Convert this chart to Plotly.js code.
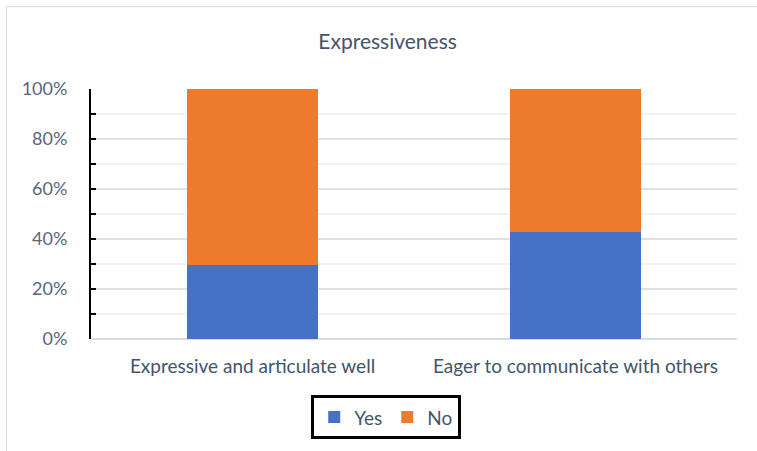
<!DOCTYPE html>
<html><head><meta charset="utf-8">
<script src="https://cdn.plot.ly/plotly-3.0.1.min.js"></script>
<style>
html,body{margin:0;padding:0;background:#fff;}
#wrap{position:relative;width:757px;height:451px;}
#frame{position:absolute;left:6px;top:6px;width:760px;height:460px;border-left:1px solid #D9DDE3;border-top:1px solid #D9DDE3;pointer-events:none;}
#chart{position:absolute;left:0;top:0;width:757px;height:451px;}
</style></head>
<body><div id="wrap"><div id="chart"></div><div id="frame"></div></div>
<script>
const categories = ["Expressive and articulate well", "Eager to communicate with others"];
const yesValues = [0.296, 0.429];
const noValues = [0.704, 0.571];
const tickVals = [0, 0.2, 0.4, 0.6, 0.8, 1.0];
const tickLabels = ["0%", "20%", "40%", "60%", "80%", "100%"];

const textColor = "#44546A";
const traces = [
  {type:"bar", name:"Yes", x:categories, y:yesValues, marker:{color:"#4572C6", line:{width:0}}, hoverinfo:"none"},
  {type:"bar", name:"No", x:categories, y:noValues, marker:{color:"#EE7B2B", line:{width:0}}, hoverinfo:"none"}
];
const layout = {
  width:757, height:451,
  margin:{l:91, r:20, t:89, b:112, autoexpand:false},
  paper_bgcolor:"#fff", plot_bgcolor:"#fff",
  barmode:"stack", bargap:0.595,
  font:{family:"Lato, 'Open Sans', sans-serif", color:textColor},
  title:{text:"Expressiveness", x:0.512, xanchor:"center", y:0.907, yanchor:"middle", font:{size:21, color:textColor}},
  xaxis:{showgrid:false, showline:false, zeroline:false, ticks:"", tickfont:{size:19, color:textColor}, ticklabelstandoff:14, automargin:false},
  yaxis:{range:[0,1], tickvals:tickVals, ticktext:tickLabels, tickfont:{size:18, color:"#5A6678"}, automargin:false,
         showline:true, linecolor:"#000", linewidth:2, ticks:"inside", ticklen:5, tickcolor:"#000", tickwidth:2,
         gridcolor:"#DEE2E8", gridwidth:2, zeroline:true, zerolinecolor:"#D9DDE3", zerolinewidth:2,
         ticklabelstandoff:18,
         minor:{dtick:0.1, ticks:"inside", ticklen:5, tickcolor:"#000", tickwidth:2, showgrid:true, gridcolor:"#F0F2F4", gridwidth:2}},
  legend:{orientation:"h", x:0.457, xanchor:"center", y:-0.225, yanchor:"top", bordercolor:"#000", borderwidth:3,
          font:{size:19, color:textColor}, itemwidth:30, traceorder:"normal"},
  showlegend:true
};
Plotly.newPlot("chart", traces, layout, {displayModeBar:false, staticPlot:true});
</script></body></html>
